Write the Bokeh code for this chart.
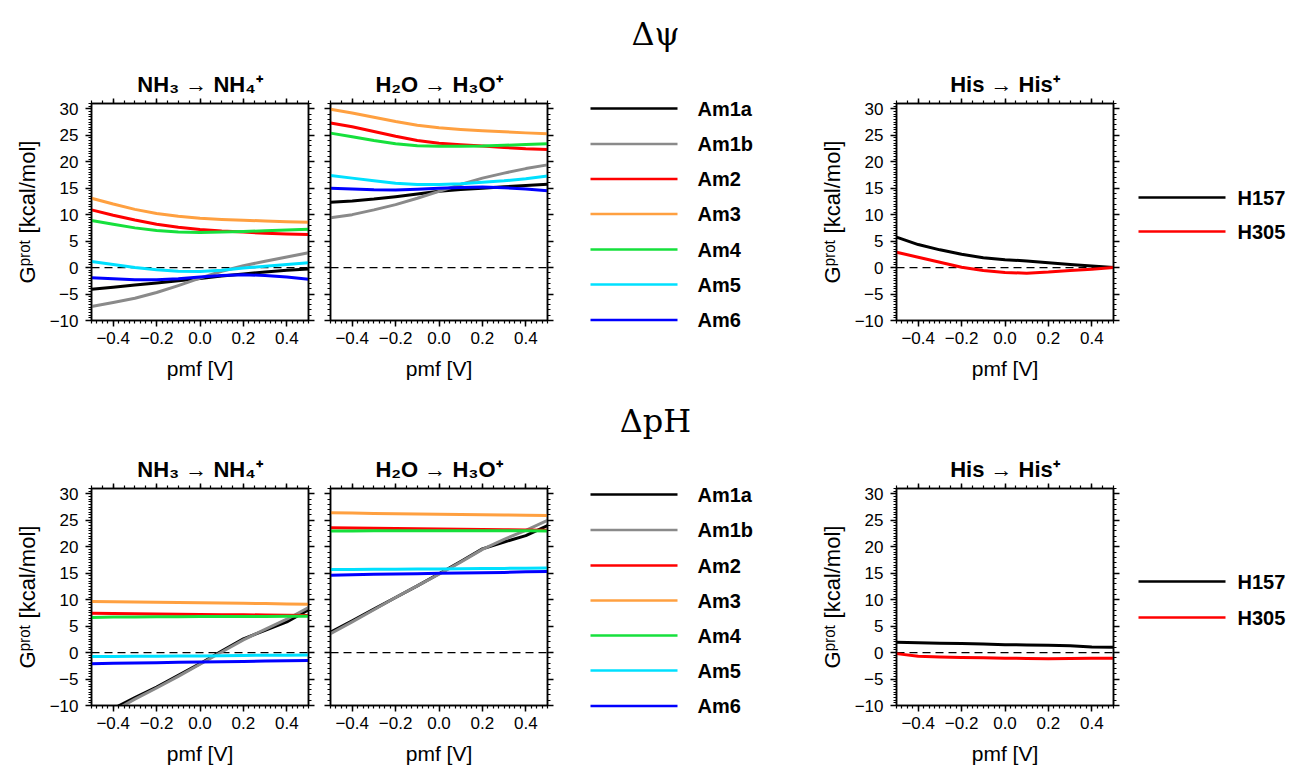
from bokeh.plotting import figure
from bokeh.layouts import row, column
from bokeh.models import (Range1d, LinearAxis, FixedTicker, CustomJSTickFormatter,
                          Span, ColumnDataSource)
from bokeh.embed import file_html
from bokeh.resources import INLINE
from bokeh.core.properties import value
import numpy as np

# ---------------- data ----------------
pmf = [-0.5, -0.4, -0.3, -0.2, -0.1, 0.0, 0.1, 0.2, 0.3, 0.4, 0.5]

am_names = ["Am1a", "Am1b", "Am2", "Am3", "Am4", "Am5", "Am6"]
am_colors = ["#000000", "#8a8a8a", "#ff0000", "#ffa040", "#16e03c", "#00e0ff", "#0000ff"]
his_names = ["H157", "H305"]
his_colors = ["#000000", "#ff0000"]

panel_titles = ["NH\u2083 \u2192 NH\u2084\u207a", "H\u2082O \u2192 H\u2083O\u207a",
                "His \u2192 His\u207a"]
row_titles = ["\u0394\u03c8", "\u0394pH"]

# Delta psi, NH3 -> NH4+
psi_nh3_am1a = [-4.1, -3.7, -3.3, -2.9, -2.5, -2.05, -1.6, -1.2, -0.85, -0.5, -0.25]
psi_nh3_am1b = [-7.35, -6.6, -5.8, -4.7, -3.4, -2.0, -0.7, 0.35, 1.2, 2.0, 2.8]
psi_nh3_am2 = [10.9, 9.9, 9.0, 8.2, 7.6, 7.2, 6.9, 6.7, 6.5, 6.35, 6.25]
psi_nh3_am3 = [13.1, 12.0, 11.0, 10.2, 9.7, 9.3, 9.1, 8.95, 8.8, 8.65, 8.55]
psi_nh3_am4 = [8.9, 8.2, 7.5, 7.0, 6.7, 6.65, 6.7, 6.8, 6.95, 7.1, 7.25]
psi_nh3_am5 = [1.15, 0.6, 0.0, -0.4, -0.7, -0.75, -0.5, -0.1, 0.25, 0.6, 0.9]
psi_nh3_am6 = [-1.9, -2.1, -2.3, -2.3, -2.1, -1.8, -1.5, -1.35, -1.5, -1.8, -2.2]

# Delta psi, H2O -> H3O+
psi_h2o_am1a = [12.35, 12.6, 12.95, 13.4, 13.9, 14.4, 14.75, 15.0, 15.25, 15.5, 15.75]
psi_h2o_am1b = [9.4, 10.0, 10.9, 11.9, 13.1, 14.4, 15.7, 16.9, 17.85, 18.7, 19.4]
psi_h2o_am2 = [27.3, 26.6, 25.7, 24.8, 24.0, 23.5, 23.2, 22.95, 22.7, 22.45, 22.3]
psi_h2o_am3 = [29.9, 29.2, 28.4, 27.6, 26.9, 26.4, 26.1, 25.85, 25.65, 25.45, 25.3]
psi_h2o_am4 = [25.4, 24.7, 24.0, 23.4, 23.0, 22.9, 22.9, 22.95, 23.1, 23.25, 23.4]
psi_h2o_am5 = [17.4, 16.9, 16.4, 15.95, 15.7, 15.7, 15.85, 16.1, 16.4, 16.8, 17.3]
psi_h2o_am6 = [15.0, 14.85, 14.7, 14.65, 14.8, 15.0, 15.15, 15.2, 15.1, 14.85, 14.5]

# Delta psi, His -> His+
psi_his_h157 = [5.75, 4.35, 3.35, 2.5, 1.85, 1.5, 1.25, 0.9, 0.6, 0.3, 0.0]
psi_his_h305 = [2.9, 1.95, 1.0, 0.05, -0.55, -0.95, -1.05, -0.85, -0.55, -0.3, 0.0]

# Delta pH, NH3 -> NH4+
ph_nh3_am1a = [-12.8, -10.6, -8.5, -6.5, -4.3, -2.1, 0.3, 2.6, 4.2, 5.8, 8.1]
ph_nh3_am1b = [-13.4, -11.1, -8.8, -6.7, -4.5, -2.2, 0.1, 2.4, 4.4, 6.3, 8.5]
ph_nh3_am2 = [7.45, 7.4, 7.35, 7.3, 7.25, 7.2, 7.15, 7.15, 7.1, 7.05, 7.0]
ph_nh3_am3 = [9.65, 9.6, 9.55, 9.5, 9.45, 9.4, 9.35, 9.3, 9.25, 9.2, 9.15]
ph_nh3_am4 = [6.65, 6.7, 6.7, 6.75, 6.75, 6.8, 6.8, 6.8, 6.8, 6.85, 6.85]
ph_nh3_am5 = [-0.75, -0.75, -0.7, -0.7, -0.65, -0.65, -0.6, -0.55, -0.5, -0.5, -0.45]
ph_nh3_am6 = [-2.1, -2.0, -1.95, -1.9, -1.85, -1.8, -1.75, -1.7, -1.6, -1.55, -1.5]

# Delta pH, H2O -> H3O+
ph_h2o_am1a = [3.85, 6.0, 8.2, 10.4, 12.6, 14.9, 17.2, 19.6, 20.9, 22.1, 24.0]
ph_h2o_am1b = [3.55, 5.8, 8.1, 10.4, 12.6, 14.8, 17.1, 19.5, 21.4, 23.1, 25.0]
ph_h2o_am2 = [23.6, 23.55, 23.5, 23.45, 23.4, 23.35, 23.3, 23.25, 23.2, 23.15, 23.1]
ph_h2o_am3 = [26.4, 26.35, 26.3, 26.25, 26.2, 26.15, 26.1, 26.05, 26.0, 25.95, 25.9]
ph_h2o_am4 = [22.95, 22.95, 23.0, 23.0, 23.0, 23.0, 23.0, 23.0, 23.0, 23.0, 22.95]
ph_h2o_am5 = [15.7, 15.7, 15.75, 15.75, 15.8, 15.8, 15.85, 15.9, 15.9, 15.95, 16.0]
ph_h2o_am6 = [14.6, 14.7, 14.8, 14.85, 14.9, 15.0, 15.05, 15.1, 15.15, 15.25, 15.3]

# Delta pH, His -> His+
ph_his_h157 = [1.95, 1.85, 1.75, 1.7, 1.6, 1.5, 1.45, 1.4, 1.3, 1.05, 1.0]
ph_his_h305 = [-0.2, -0.7, -0.85, -0.95, -1.0, -1.05, -1.1, -1.15, -1.1, -1.05, -1.05]

x_tick_values = [-0.4, -0.2, 0.0, 0.2, 0.4]
y_tick_values = [-10, -5, 0, 5, 10, 15, 20, 25, 30]

# ---------------- styling / layout ----------------
FONT = "Liberation Sans"
X0, X1 = -0.5, 0.5
Y0, Y1 = -10, 31
FW, FH = 217, 217
W = 1291
STRIP_H = 60

x_minor = list(np.round(np.arange(-0.5, 0.5001, 0.025), 4))
x_top = list(np.round(np.arange(-0.5, 0.5001, 0.05), 4))
y_minor_left = list(np.round(np.arange(-10, 31.001, 0.5), 2))
y_minor_right = list(np.arange(-10, 32, 1))


def base_axis(ax):
    ax.axis_line_width = 1.5
    ax.axis_line_color = "black"
    ax.major_tick_line_width = 1.5
    ax.major_tick_line_color = "black"
    ax.minor_tick_line_width = 1.2
    ax.minor_tick_line_color = "black"
    ax.major_tick_in = 0
    ax.major_tick_out = 6
    ax.minor_tick_in = 0
    ax.minor_tick_out = 3
    ax.major_label_text_font = FONT
    ax.major_label_text_font_size = "17px"
    ax.major_label_text_color = "black"
    ax.axis_label_text_font = FONT
    ax.axis_label_text_font_style = "normal"
    ax.axis_label_text_color = "black"


def tick_only_axis(ticks, minor):
    ax = LinearAxis(ticker=FixedTicker(ticks=ticks, minor_ticks=minor),
                    formatter=CustomJSTickFormatter(code="return ''"))
    base_axis(ax)
    ax.major_label_standoff = 0
    return ax


def make_panel(width, left, top, bottom, ylabels, title):
    right = width - left - FW
    height = top + FH + bottom
    p = figure(width=width, height=height, x_range=Range1d(X0, X1), y_range=Range1d(Y0, Y1),
               x_axis_type=None, y_axis_type=None, title=title,
               output_backend="svg", toolbar_location=None,
               min_border_left=left, min_border_right=right,
               min_border_top=top, min_border_bottom=bottom,
               outline_line_color="black", outline_line_width=1.5,
               background_fill_color="white", border_fill_color="white")
    p.title.text_font = FONT
    p.title.text_font_size = "22px"
    p.title.text_font_style = "bold"
    p.title.text_color = "black"
    p.title.align = "center"
    p.title.standoff = 4
    xb = LinearAxis(ticker=FixedTicker(ticks=x_tick_values, minor_ticks=x_minor),
                    formatter=CustomJSTickFormatter(
                        code="return tick.toFixed(1).replace('-', '\u2212')"),
                    axis_label="pmf [V]")
    base_axis(xb)
    xb.major_label_standoff = 5
    xb.axis_label_text_font_size = "21px"
    xb.axis_label_standoff = 10
    p.add_layout(xb, "below")
    xt = tick_only_axis(x_tick_values, x_top)
    xt.major_tick_out = 5
    p.add_layout(xt, "above")
    if ylabels:
        yl = LinearAxis(ticker=FixedTicker(ticks=y_tick_values, minor_ticks=y_minor_left),
                        formatter=CustomJSTickFormatter(
                            code="return tick.toFixed(0).replace('-', '\u2212')"),
                        axis_label="G\u1d56\u02b3\u1d52\u1d57 [kcal/mol]")
        base_axis(yl)
        yl.major_label_standoff = 7
        yl.axis_label_text_font_size = "22px"
        yl.axis_label_standoff = 7
    else:
        yl = tick_only_axis(y_tick_values, y_minor_right)
    p.add_layout(yl, "left")
    yr = tick_only_axis(y_tick_values, y_minor_right)
    p.add_layout(yr, "right")
    p.add_layout(Span(location=0, dimension="width", line_color="black",
                      line_dash="8 5", line_width=1.2, level="underlay"))
    return p


def draw_series(p, names, colors, arrays):
    data = {"pmf": pmf}
    for n, a in zip(names, arrays):
        data[n] = a
    src = ColumnDataSource(data)
    for n, c in zip(names, colors):
        p.line(x="pmf", y=n, source=src, line_color=c, line_width=3,
               line_join="round", line_cap="round")


def make_strip(big_title):
    p = figure(width=W, height=STRIP_H, x_range=Range1d(0, W), y_range=Range1d(STRIP_H, 0),
               x_axis_type=None, y_axis_type=None, title=None,
               output_backend="svg", toolbar_location=None,
               min_border=0, min_border_left=0, min_border_right=0,
               min_border_top=0, min_border_bottom=0,
               outline_line_color=None, background_fill_color="white",
               border_fill_color="white")
    p.text(x=[655], y=[33], text=[big_title], text_font=value("DejaVu Serif"),
           text_font_size="32px", text_align="center", text_baseline="middle",
           text_color="black")
    return p


def make_legend(width, height, top, names, colors, x0, x1, xt, ys, ftop):
    # frame = whole figure; y data = canvas pixel rows
    p = figure(width=width, height=height, x_range=Range1d(0, width),
               y_range=Range1d(ftop - top + height, ftop - top),
               x_axis_type=None, y_axis_type=None, title=None,
               output_backend="svg", toolbar_location=None,
               min_border=0, min_border_left=0, min_border_right=0,
               min_border_top=0, min_border_bottom=0,
               outline_line_color=None, background_fill_color="white",
               border_fill_color="white")
    src = ColumnDataSource(dict(name=names, color=colors, x0=[x0] * len(names),
                                x1=[x1] * len(names), xt=[xt] * len(names), y=ys))
    p.segment(x0="x0", y0="y", x1="x1", y1="y", line_color="color", line_width=2.5, source=src)
    p.text(x="xt", y="y", text="name", source=src, text_font=value(FONT),
           text_font_size="20px", text_font_style="bold", text_baseline="middle",
           text_align="left", text_color="black")
    return p


AM_Y = [[108, 143.5, 178.5, 213.5, 249, 284, 319.5],
        [494, 529.5, 565, 600, 635, 670, 705.5]]
HIS_Y = [[197, 231], [581, 617]]

panel_sets = [
    ([psi_nh3_am1a, psi_nh3_am1b, psi_nh3_am2, psi_nh3_am3, psi_nh3_am4, psi_nh3_am5, psi_nh3_am6],
     [psi_h2o_am1a, psi_h2o_am1b, psi_h2o_am2, psi_h2o_am3, psi_h2o_am4, psi_h2o_am5, psi_h2o_am6],
     [psi_his_h157, psi_his_h305]),
    ([ph_nh3_am1a, ph_nh3_am1b, ph_nh3_am2, ph_nh3_am3, ph_nh3_am4, ph_nh3_am5, ph_nh3_am6],
     [ph_h2o_am1a, ph_h2o_am1b, ph_h2o_am2, ph_h2o_am3, ph_h2o_am4, ph_h2o_am5, ph_h2o_am6],
     [ph_his_h157, ph_his_h305]),
]
band_top = [0, 387]       # canvas y where each band starts
bottoms = [67, 69]        # bottom borders of panel rows
frame_tops = [103, 488]   # canvas y of frame tops

children = []
for i, (nh3, h2o, his) in enumerate(panel_sets):
    children.append(make_strip(row_titles[i]))
    top = frame_tops[i] - band_top[i] - STRIP_H
    row_h = top + FH + bottoms[i]

    p1 = make_panel(318, 91, top, bottoms[i], True, panel_titles[0])
    draw_series(p1, am_names, am_colors, nh3)

    p2 = make_panel(242, 12, top, bottoms[i], False, panel_titles[1])
    draw_series(p2, am_names, am_colors, h2o)

    leg1 = make_legend(256, row_h, top, am_names, am_colors, 30, 117, 137, AM_Y[i],
                       frame_tops[i])

    p3 = make_panel(304, 80, top, bottoms[i], True, panel_titles[2])
    draw_series(p3, his_names, his_colors, his)

    leg2 = make_legend(171, row_h, top, his_names, his_colors, 18, 105, 117, HIS_Y[i],
                       frame_tops[i])

    children.append(row(p1, p2, column(leg1, spacing=0), p3, column(leg2, spacing=0),
                        spacing=0))

layout = column(*children, spacing=0)

open("out.html", "w").write(file_html(layout, INLINE))
